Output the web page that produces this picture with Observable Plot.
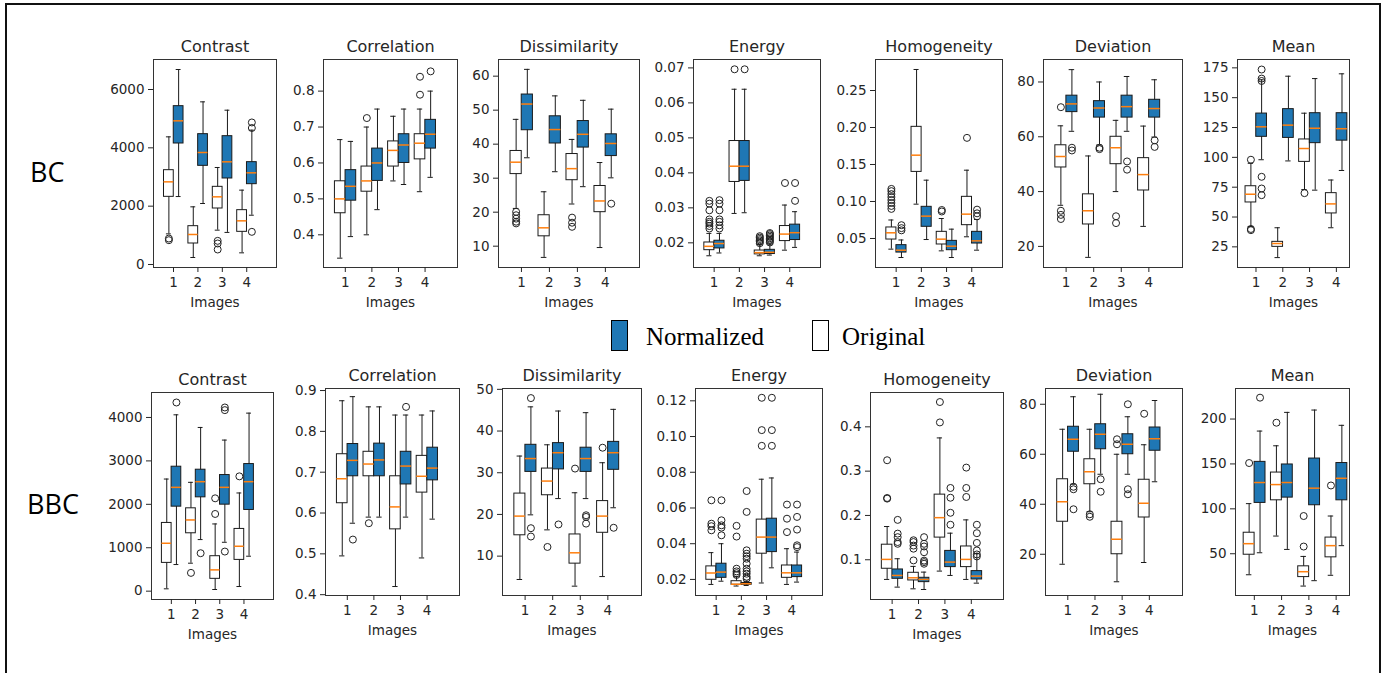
<!DOCTYPE html>
<html><head><meta charset="utf-8">
<script src="https://cdn.jsdelivr.net/npm/d3@7"></script>
<script src="https://cdn.jsdelivr.net/npm/@observablehq/plot@0.6"></script>
<style>
body{margin:0;background:#fff;}
#root{position:relative;width:1385px;height:673px;overflow:hidden;background:#fff;}
#border{position:absolute;left:5px;top:3px;width:1376px;height:700px;border:2px solid #111;box-sizing:border-box;}
.rowlabel{position:absolute;font-family:"Open Sans";font-size:27px;color:#000;line-height:1;}
.legend-text{position:absolute;font-family:"Liberation Serif";font-size:25px;color:#000;line-height:1;}
.swatch{position:absolute;width:17px;height:31px;border:1.5px solid #000;box-sizing:border-box;}
#root svg g[aria-label$="tick label"] text{font-size:13.5px;font-family:"DejaVu Sans";fill:#262626;}
</style></head><body>
<div id="root"><div id="border"></div></div>
<script>
// ---------- categories ----------
const ROWS = ["BC", "BBC"];
const FEATURES = ["Contrast", "Correlation", "Dissimilarity", "Energy", "Homogeneity", "Deviation", "Mean"];
const IMAGES = [1, 2, 3, 4];
const SERIES = ["Normalized", "Original"];
const X_LABEL = "Images";

// ---------- box statistics per image: [whisker low, q1, median, q3, whisker high] ----------
// O = Original, N = Normalized ; *_out = outliers per image
const BC_Contrast_O = [[1050,2320,2834,3234,4377],[240,720,1029,1314,1977],[1177,1920,2320,2663,3326],[400,1120,1497,1863,2549]];
const BC_Contrast_N = [[2330,4149,4926,5429,6686],[2091,3383,3840,4469,5577],[1100,2949,3520,4400,5291],[1690,2754,3143,3509,4606]];
const BC_Contrast_O_out = [[890,834],[],[811,720,514],[]];
const BC_Contrast_N_out = [[],[],[],[4870,4680,1120]];

const BC_Correlation_O = [[0.335,0.46,0.5,0.549,0.665],[0.40,0.52,0.55,0.59,0.70],[0.55,0.59,0.635,0.66,0.73],[0.52,0.61,0.655,0.68,0.75]];
const BC_Correlation_N = [[0.395,0.495,0.535,0.58,0.66],[0.47,0.55,0.60,0.64,0.75],[0.54,0.60,0.65,0.68,0.75],[0.56,0.64,0.68,0.72,0.80]];
const BC_Correlation_O_out = [[],[0.725],[],[0.79,0.84]];
const BC_Correlation_N_out = [[],[],[],[0.855]];

const BC_Dissimilarity_O = [[21.1,31.2,34.7,38.0,47.3],[6.7,12.9,15.4,19.1,26],[22.4,29.4,32.8,37.1,41.4],[9.6,20,23.3,27.7,34.6]];
const BC_Dissimilarity_N = [[36,44.1,51.8,54.6,62],[31.9,40.2,44.3,48.2,54.2],[27.5,39,42.9,46.8,52.9],[30.1,36.5,40.2,42.9,50.3]];
const BC_Dissimilarity_O_out = [[20.1,19.1,18.1,17.2,16.7],[],[18.4,16.9,15.7],[]];
const BC_Dissimilarity_N_out = [[],[],[],[22.5]];

const BC_Energy_O = [[0.0163,0.0179,0.019,0.0201,0.0227],[0.0284,0.0374,0.0419,0.0491,0.0639],[0.0163,0.0167,0.0172,0.0178,0.0195],[0.0179,0.0205,0.0225,0.0248,0.0308]];
const BC_Energy_N = [[0.0171,0.0184,0.0198,0.0206,0.0227],[0.0286,0.0377,0.0419,0.0491,0.0639],[0.0165,0.0168,0.0173,0.018,0.0197],[0.0187,0.0208,0.0229,0.0252,0.0289]];
const BC_Energy_O_out = [[0.0241,0.0248,0.0255,0.026,0.0267,0.0293,0.0312,0.032],[0.0696],[0.0199,0.0203,0.0207,0.0211,0.0215,0.0219],[0.0371]];
const BC_Energy_N_out = [[0.0241,0.025,0.026,0.0267,0.0293,0.0312,0.0322],[0.0696],[0.0201,0.0205,0.0209,0.0213,0.0217,0.0221,0.0225,0.0228],[0.0371,0.032]];

const BC_Homogeneity_O = [[0.0356,0.0486,0.0577,0.0649,0.075],[0.0964,0.14,0.1626,0.2009,0.2784],[0.0333,0.0419,0.0491,0.059,0.077],[0.0523,0.068,0.0829,0.1063,0.1423]];
const BC_Homogeneity_N = [[0.0243,0.031,0.0342,0.041,0.048],[0.0486,0.0658,0.0802,0.0928,0.1288],[0.0243,0.0342,0.0396,0.0468,0.0626],[0.0342,0.0432,0.0468,0.059,0.0757]];
const BC_Homogeneity_O_out = [[0.09,0.094,0.098,0.102,0.106,0.11,0.114,0.117],[],[0.0865,0.0885],[0.186]];
const BC_Homogeneity_N_out = [[0.061,0.064,0.068],[],[],[0.08,0.084,0.089]];

const BC_Deviation_O = [[35,48.8,52.8,56.9,64],[16,28,33,39,53],[40,50,56,60,66],[27.3,40.4,46.2,52.2,63.9]];
const BC_Deviation_N = [[62,69,72,75,84.5],[57,67,70.5,73,80],[62,67,71,75,82],[59.9,67,70.3,73.5,80.8]];
const BC_Deviation_O_out = [[70.8,33,31.5,30],[],[31,28.5],[]];
const BC_Deviation_N_out = [[56,55],[56,55.5],[51,48],[58.7,56.3]];

const BC_Mean_O = [[42,62.2,69.1,75.8,95],[16,25,27.8,29.2,41],[73,96.2,107.4,115,137],[41,53,61,70,81]];
const BC_Mean_N = [[98,117.2,125.6,136.7,165],[97,116.3,127,140.4,168],[72.5,111.9,124.4,137,166],[89,114,124,137,170]];
const BC_Mean_O_out = [[98,40,39],[],[70],[]];
const BC_Mean_N_out = [[173.6,166,164,83.7,73.9,68.3],[],[],[]];

const BBC_Contrast_O = [[54,651,1103,1571,2582],[644,1333,1640,1908,2506],[38,284,490,805,1548],[107,720,1034,1433,2261]];
const BBC_Contrast_N = [[613,1946,2391,2866,4061],[1188,2161,2521,2797,3770],[1126,1992,2391,2674,3479],[805,1870,2521,2927,4100]];
const BBC_Contrast_O_out = [[],[421],[2138,1778],[2644]];
const BBC_Contrast_N_out = [[4345],[874],[4230,4169,912],[]];

const BBC_Correlation_O = [[0.495,0.624,0.684,0.744,0.875],[0.59,0.69,0.72,0.75,0.86],[0.42,0.56,0.615,0.69,0.84],[0.49,0.65,0.69,0.74,0.84]];
const BBC_Correlation_N = [[0.575,0.69,0.729,0.769,0.885],[0.59,0.69,0.73,0.77,0.86],[0.59,0.67,0.715,0.75,0.84],[0.585,0.68,0.71,0.76,0.85]];
const BBC_Correlation_O_out = [[],[0.575],[],[]];
const BBC_Correlation_N_out = [[0.535],[],[0.86],[]];

const BBC_Dissimilarity_O = [[4.4,15,19.6,25,34],[16.3,24.6,28,31,36.7],[2.8,8.2,10.8,15.2,25.2],[5.1,15.6,19.6,23.2,32.4]];
const BBC_Dissimilarity_N = [[19.9,30.2,33.4,36.7,45.8],[23.8,30.8,34.8,37.1,44.8],[23.8,30.2,33.4,36,44.4],[21.6,30.7,34.8,37.4,45.2]];
const BBC_Dissimilarity_O_out = [[],[12.2],[31],[36]];
const BBC_Dissimilarity_N_out = [[47.9,16.7,14.7],[17.6],[19.8,19.4,17.8],[16.8]];

const BBC_Energy_O = [[0.0172,0.0198,0.0236,0.0273,0.035],[0.0163,0.017,0.0173,0.019,0.0215],[0.018,0.0344,0.0437,0.0535,0.0761],[0.0172,0.0209,0.0237,0.0278,0.0372]];
const BBC_Energy_N = [[0.019,0.0209,0.0241,0.0288,0.04],[0.0166,0.017,0.0176,0.018,0.019],[0.0265,0.0353,0.0437,0.054,0.0768],[0.0185,0.0213,0.0237,0.0278,0.0353]];
const BBC_Energy_O_out = [[0.0643,0.0512,0.0498,0.0475],[0.05,0.044,0.026,0.0245,0.0235,0.0225],[0.1217,0.1036,0.0948],[0.0619,0.054,0.0465]];
const BBC_Energy_N_out = [[0.0643,0.0531,0.0503,0.049,0.0447],[0.0695,0.0578,0.0363,0.0344,0.033,0.0316,0.0288,0.026,0.0245,0.0232,0.0215,0.0204],[0.1217,0.1036,0.0948],[0.0619,0.055,0.0479,0.0391,0.0381]];

const BBC_Homogeneity_O = [[0.0556,0.0797,0.1008,0.134,0.175],[0.0344,0.0533,0.0593,0.0706,0.085],[0.0744,0.15,0.195,0.247,0.375],[0.0556,0.0834,0.1008,0.13,0.19]];
const BBC_Homogeneity_N = [[0.0382,0.057,0.0646,0.0781,0.1023],[0.0329,0.0495,0.0556,0.0593,0.0721],[0.0646,0.0834,0.0947,0.12,0.16],[0.0472,0.0555,0.0631,0.0744,0.1136]];
const BBC_Homogeneity_O_out = [[0.3246,0.2394,0.238],[0.0985,0.125,0.132,0.14,0.144],[0.456,0.41],[0.308,0.262,0.2417]];
const BBC_Homogeneity_N_out = [[0.19,0.159,0.151,0.14,0.136],[0.151,0.136,0.13,0.117,0.098,0.0947,0.091],[0.262,0.24,0.206,0.179],[0.179,0.16,0.138,0.121,0.112,0.1075]];

const BBC_Deviation_O = [[16,33,41,50,70],[37,48,53,58,70],[9,20,26,33,60],[16.7,34.7,40.4,49.8,63.8]];
const BBC_Deviation_N = [[48,61,66,71,83],[52,62,68,72,84],[52,60,64,68,75],[49,61.4,66.2,70.7,81.5]];
const BBC_Deviation_O_out = [[],[36,35],[64,66],[76.2]];
const BBC_Deviation_N_out = [[47,46,38],[50,45],[80,46,44],[]];

const BBC_Mean_O = [[26.6,48.9,61.2,73.4,105.8],[69.7,109.5,127,140.4,170.2],[14,24,30,36,47],[26,46,59,68,92]];
const BBC_Mean_N = [[51.1,106.6,129.3,152.3,186.6],[54.8,112.5,129.3,149.4,207.4],[20,104,123,156,210],[59,109.5,134,151,193]];
const BBC_Mean_O_out = [[151],[195.9],[92,58],[126]];
const BBC_Mean_N_out = [[223.8],[],[],[]];

// ---------- y tick values ----------
const BC_Contrast_ticks = [0,2000,4000,6000];
const BC_Correlation_ticks = [0.4,0.5,0.6,0.7,0.8];
const BC_Dissimilarity_ticks = [10,20,30,40,50,60];
const BC_Energy_ticks = [0.02,0.03,0.04,0.05,0.06,0.07];
const BC_Homogeneity_ticks = [0.05,0.10,0.15,0.20,0.25];
const BC_Deviation_ticks = [20,40,60,80];
const BC_Mean_ticks = [25,50,75,100,125,150,175];
const BBC_Contrast_ticks = [0,1000,2000,3000,4000];
const BBC_Correlation_ticks = [0.4,0.5,0.6,0.7,0.8,0.9];
const BBC_Dissimilarity_ticks = [10,20,30,40,50];
const BBC_Energy_ticks = [0.02,0.04,0.06,0.08,0.10,0.12];
const BBC_Homogeneity_ticks = [0.1,0.2,0.3,0.4];
const BBC_Deviation_ticks = [20,40,60,80];
const BBC_Mean_ticks = [50,100,150,200];

// ---------- panel table built from the arrays ----------
const DATA = {
  BC: {
    Contrast: [BC_Contrast_O, BC_Contrast_N, BC_Contrast_O_out, BC_Contrast_N_out, BC_Contrast_ticks, "d"],
    Correlation: [BC_Correlation_O, BC_Correlation_N, BC_Correlation_O_out, BC_Correlation_N_out, BC_Correlation_ticks, ".1f"],
    Dissimilarity: [BC_Dissimilarity_O, BC_Dissimilarity_N, BC_Dissimilarity_O_out, BC_Dissimilarity_N_out, BC_Dissimilarity_ticks, "d"],
    Energy: [BC_Energy_O, BC_Energy_N, BC_Energy_O_out, BC_Energy_N_out, BC_Energy_ticks, ".2f"],
    Homogeneity: [BC_Homogeneity_O, BC_Homogeneity_N, BC_Homogeneity_O_out, BC_Homogeneity_N_out, BC_Homogeneity_ticks, ".2f"],
    Deviation: [BC_Deviation_O, BC_Deviation_N, BC_Deviation_O_out, BC_Deviation_N_out, BC_Deviation_ticks, "d"],
    Mean: [BC_Mean_O, BC_Mean_N, BC_Mean_O_out, BC_Mean_N_out, BC_Mean_ticks, "d"]
  },
  BBC: {
    Contrast: [BBC_Contrast_O, BBC_Contrast_N, BBC_Contrast_O_out, BBC_Contrast_N_out, BBC_Contrast_ticks, "d"],
    Correlation: [BBC_Correlation_O, BBC_Correlation_N, BBC_Correlation_O_out, BBC_Correlation_N_out, BBC_Correlation_ticks, ".1f"],
    Dissimilarity: [BBC_Dissimilarity_O, BBC_Dissimilarity_N, BBC_Dissimilarity_O_out, BBC_Dissimilarity_N_out, BBC_Dissimilarity_ticks, "d"],
    Energy: [BBC_Energy_O, BBC_Energy_N, BBC_Energy_O_out, BBC_Energy_N_out, BBC_Energy_ticks, ".2f"],
    Homogeneity: [BBC_Homogeneity_O, BBC_Homogeneity_N, BBC_Homogeneity_O_out, BBC_Homogeneity_N_out, BBC_Homogeneity_ticks, ".1f"],
    Deviation: [BBC_Deviation_O, BBC_Deviation_N, BBC_Deviation_O_out, BBC_Deviation_N_out, BBC_Deviation_ticks, "d"],
    Mean: [BBC_Mean_O, BBC_Mean_N, BBC_Mean_O_out, BBC_Mean_N_out, BBC_Mean_ticks, "d"]
  }
};

// ---------- layout (frame in page px: left, top, right, bottom; scale domains) ----------
const LAYOUT = {
  BC: {
    Contrast:      {frame:[153,59,276,267],  x:[0.18,5.22], y:[-103,7029]},
    Correlation:   {frame:[323,59,457,267],  x:[0.18,5.22], y:[0.309,0.888]},
    Dissimilarity: {frame:[498,59,639,267],  x:[0.18,5.22], y:[3.73,64.9]},
    Energy:        {frame:[693,59,820,267],  x:[0.18,5.22], y:[0.01295,0.0724]},
    Homogeneity:   {frame:[875,59,1002,267], x:[0.18,5.22], y:[0.0108,0.2919]},
    Deviation:     {frame:[1043,59,1182,267],x:[0.18,5.22], y:[12.3,88.2]},
    Mean:          {frame:[1237,59,1349,267],x:[0.31,4.49], y:[7.7,182]}
  },
  BBC: {
    Contrast:      {frame:[151,392,273,599], x:[0.18,5.22], y:[-192,4575]},
    Correlation:   {frame:[325,388,459,595], x:[0.18,5.22], y:[0.398,0.905]},
    Dissimilarity: {frame:[502,388,641,595], x:[0.18,5.22], y:[0.56,50.2]},
    Energy:        {frame:[695,388,822,595], x:[0.18,5.22], y:[0.011,0.1269]},
    Homogeneity:   {frame:[870,392,1003,599],x:[0.18,5.22], y:[0.0103,0.4775]},
    Deviation:     {frame:[1045,388,1182,595],x:[0.18,5.22], y:[3.5,86.3]},
    Mean:          {frame:[1235,388,1349,595],x:[0.31,4.49], y:[3.5,234]}
  }
};

const BLUE = "#1f77b4", ORANGE = "#ff7f0e", INK = "#1a1a1a";
const OFF = {O: -0.19, N: 0.21}, HW = 0.2, CAP = 0.1;
const root = document.getElementById("root");

function drawPanel(row, feat) {
  const [O, N, Oo, No, ticks, fmt] = DATA[row][feat];
  const lay = LAYOUT[row][feat];
  const [L, T, R, B] = lay.frame;
  const mL = 60, mR = 12, mT = 30, mB = 48;
  const boxes = [], outs = [];
  [["O", O, Oo], ["N", N, No]].forEach(([type, arr, oarr]) => {
    arr.forEach((s, i) => boxes.push({type, x: IMAGES[i] + OFF[type], lo: s[0], q1: s[1], med: s[2], q3: s[3], hi: s[4]}));
    oarr.forEach((list, i) => list.forEach(v => outs.push({type, x: IMAGES[i] + OFF[type], v})));
  });
  const f = fmt === "d" ? d3.format("d") : d3.format(fmt);
  const svg = Plot.plot({
    width: R - L + mL + mR, height: B - T + mT + mB,
    marginLeft: mL, marginRight: mR, marginTop: mT, marginBottom: mB,
    x: {domain: lay.x, axis: null},
    y: {domain: lay.y, axis: null},
    style: {fontFamily: "DejaVu Sans", fontSize: "14px", color: "#262626", background: "transparent", overflow: "visible"},
    marks: [
      Plot.ruleX(boxes, {x: "x", y1: "lo", y2: "hi", stroke: INK, strokeWidth: 1}),
      Plot.ruleY(boxes, {y: "lo", x1: d => d.x - CAP, x2: d => d.x + CAP, stroke: INK, strokeWidth: 1}),
      Plot.ruleY(boxes, {y: "hi", x1: d => d.x - CAP, x2: d => d.x + CAP, stroke: INK, strokeWidth: 1}),
      Plot.rect(boxes.filter(d => d.type === "O"), {x1: d => d.x - HW, x2: d => d.x + HW, y1: "q1", y2: "q3", fill: "white", stroke: INK, strokeWidth: 1}),
      Plot.rect(boxes.filter(d => d.type === "N"), {x1: d => d.x - HW, x2: d => d.x + HW, y1: "q1", y2: "q3", fill: BLUE, stroke: INK, strokeWidth: 1}),
      Plot.ruleY(boxes, {y: "med", x1: d => d.x - HW, x2: d => d.x + HW, stroke: ORANGE, strokeWidth: 1.5}),
      Plot.dot(outs, {x: "x", y: "v", r: 3.5, stroke: "#222", fill: "none", strokeWidth: 1}),
      Plot.frame({stroke: "#333", strokeWidth: 1}),
      Plot.axisY(ticks, {tickSize: 5, tickPadding: 4, tickFormat: f, label: null}),
      Plot.axisX(IMAGES, {tickSize: 5, tickPadding: 5, tickFormat: d => String(d), label: null}),
      Plot.text([feat], {frameAnchor: "top", lineAnchor: "middle", dy: -13, fontSize: 16, fill: "#262626"}),
      Plot.text([X_LABEL], {frameAnchor: "bottom", lineAnchor: "middle", dy: 35, fontSize: 13.5, fill: "#262626"})
    ]
  });
  svg.style.position = "absolute";
  svg.style.left = (L - mL) + "px";
  svg.style.top = (T - mT) + "px";
  root.appendChild(svg);
}

ROWS.forEach(r => FEATURES.forEach(f => drawPanel(r, f)));

// row labels
const rowPos = {BC: [30, 158], BBC: [27, 490]};
ROWS.forEach(r => {
  const d = document.createElement("div");
  d.className = "rowlabel";
  d.textContent = r;
  d.style.left = rowPos[r][0] + "px";
  d.style.top = rowPos[r][1] + "px";
  root.appendChild(d);
});

// legend
const legendPos = {Normalized: [611, 646, BLUE], Original: [812, 842, "white"]};
SERIES.forEach(s => {
  const [sx, tx, col] = legendPos[s];
  const sw = document.createElement("div");
  sw.className = "swatch";
  sw.style.left = sx + "px"; sw.style.top = "320px"; sw.style.background = col;
  root.appendChild(sw);
  const t = document.createElement("div");
  t.className = "legend-text";
  t.textContent = s;
  t.style.left = tx + "px"; t.style.top = "324px";
  root.appendChild(t);
});
</script>
</body></html>
